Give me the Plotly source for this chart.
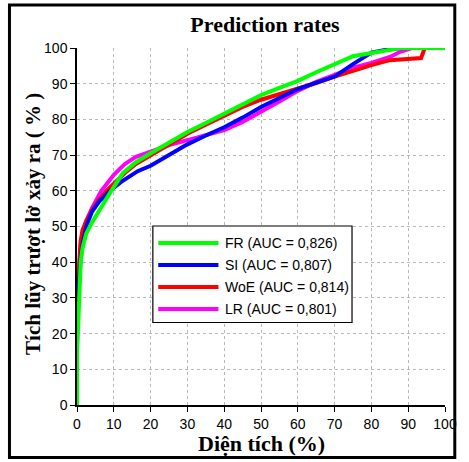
import plotly.graph_objects as go

# ---- data ----
fr_x = [0, 0, 0.3, 0.6, 1, 1.5, 2.5, 4, 6, 9, 12.5, 16, 20, 25, 30, 35, 40, 45, 50, 55, 60, 65, 70, 75, 80, 85, 88, 100]
fr_y = [0, 15, 22, 33, 40, 44, 48, 51, 54.5, 59.5, 65, 68, 70.5, 73.5, 76.5, 79, 81.5, 84, 86.8, 88.8, 90.8, 93.2, 95.5, 97.7, 98.6, 99.3, 100, 100]

si_x = [0, 0, 0.3, 0.6, 1, 1.5, 2.5, 4, 6, 9, 12, 16.5, 20, 25, 30, 35, 40, 45, 50, 55, 60, 65, 70, 75, 78, 80, 84, 88, 100]
si_y = [0, 20, 30, 37, 41, 45, 50, 54, 57, 60, 62.5, 65.5, 67, 70, 73, 75.5, 77.8, 80.5, 83.5, 86, 88.5, 90.3, 92, 95.5, 97.5, 98.7, 99.5, 100, 100]

woe_x = [0, 0, 0.3, 0.6, 1, 1.5, 2.5, 4, 6, 8, 10, 13, 16, 20, 25, 30, 35, 40, 45, 50, 55, 60, 65, 70, 75, 80, 85, 90, 93.5, 94.5, 100]
woe_y = [0, 25, 35, 42, 46, 49, 51.5, 54.5, 57.5, 60, 62, 65, 67.5, 70, 73, 76, 78.5, 81, 83.5, 85.5, 87, 88.7, 90.2, 92, 93.7, 95.2, 96.6, 97.1, 97.2, 100, 100]

lr_x = [0, 0, 0.3, 0.6, 1, 1.5, 2.5, 4, 6.6, 10, 13, 16, 20, 25, 30, 35, 40, 45, 50, 55, 60, 65, 70, 75, 80, 85, 88, 91, 100]
lr_y = [0, 15, 30, 40, 45, 48, 51.5, 55, 60, 64.5, 67.5, 69.5, 71, 72.8, 74.2, 75.5, 77, 79.3, 82, 85, 88, 90.5, 92.5, 94.5, 95.8, 97.5, 99, 100, 100]

series_names = ["FR (AUC = 0,826)", "SI (AUC = 0,807)", "WoE (AUC = 0,814)", "LR (AUC = 0,801)"]
series_colors = ["#00ff00", "#0000ff", "#ff0000", "#ff00ff"]
tick_vals = [0, 10, 20, 30, 40, 50, 60, 70, 80, 90, 100]

title_text = "Prediction rates"
x_title = "Diện tích (%)"
y_title = "Tích lũy trượt lở xảy ra ( % )"

# ---- layout geometry (pixels) ----
W, H = 469, 462
L, R, T, B = 77, 16, 48, 57
PW, PH = W - L - R, H - T - B


def px_x(p):
    return (p - L) / PW


def px_y(p):
    return (H - B - p) / PH


fig = go.Figure()
data = [(fr_x, fr_y), (si_x, si_y), (woe_x, woe_y), (lr_x, lr_y)]
# draw LR first, FR last (on top)
for i in [3, 2, 1, 0]:
    xs, ys = data[i]
    fig.add_trace(go.Scatter(x=xs, y=ys, mode="lines", name=series_names[i],
                             line=dict(color=series_colors[i], width=4), showlegend=False))

axis_common = dict(
    range=[0, 100], tickvals=tick_vals, ticks="outside", ticklen=5, tickwidth=1.2,
    tickcolor="black", showline=True, linecolor="black", linewidth=1.5,
    showgrid=True, gridcolor="#b8b8b8", griddash="dot", gridwidth=1,
    zeroline=False, tickfont=dict(family="Liberation Sans, Arial", size=14, color="black"),
    mirror=False,
)
fig.update_xaxes(**axis_common)
fig.update_yaxes(**axis_common)

serif = "Liberation Serif, Times New Roman"
annotations = [
    dict(text="<b>%s</b>" % x_title, xref="paper", yref="paper", x=0.5, y=px_y(443),
         xanchor="center", yanchor="middle", showarrow=False,
         font=dict(family=serif, size=22, color="black")),
    dict(text="<b>%s</b>" % y_title, xref="paper", yref="paper", x=px_x(32), y=px_y(224),
         xanchor="center", yanchor="middle", showarrow=False, textangle=-90,
         font=dict(family=serif, size=21, color="black")),
]
shapes = [
    dict(type="rect", xref="paper", yref="paper", x0=px_x(8), x1=px_x(463),
         y0=px_y(457.5), y1=px_y(5), line=dict(color="black", width=3), layer="above"),
    # legend box
    dict(type="rect", xref="paper", yref="paper", x0=px_x(154.5), x1=px_x(358),
         y0=px_y(322.5), y1=px_y(226), line=dict(color="black", width=1.2),
         fillcolor="white", layer="above"),
]
row_y = [243, 265, 287, 309]
for i in range(4):
    shapes.append(dict(type="line", xref="paper", yref="paper", x0=px_x(160), x1=px_x(221.5),
                       y0=px_y(row_y[i]), y1=px_y(row_y[i]),
                       line=dict(color=series_colors[i], width=4), layer="above"))
    annotations.append(dict(text=series_names[i], xref="paper", yref="paper", x=px_x(226),
                            y=px_y(row_y[i]), xanchor="left", yanchor="middle", showarrow=False,
                            font=dict(family="Liberation Sans, Arial", size=14, color="black")))

fig.update_layout(
    width=W, height=H, margin=dict(l=L, r=R, t=T, b=B),
    paper_bgcolor="white", plot_bgcolor="white",
    showlegend=False,
    title=dict(text="<b>%s</b>" % title_text, x=(L + PW / 2) / W, xanchor="center",
               y=1 - 24 / H, yanchor="middle",
               font=dict(family=serif, size=22, color="black")),
    annotations=annotations,
    shapes=shapes,
)

fig.write_html("out.html", config={"displayModeBar": False},
               post_script="document.body.style.margin='0';document.body.style.overflow='hidden';")
